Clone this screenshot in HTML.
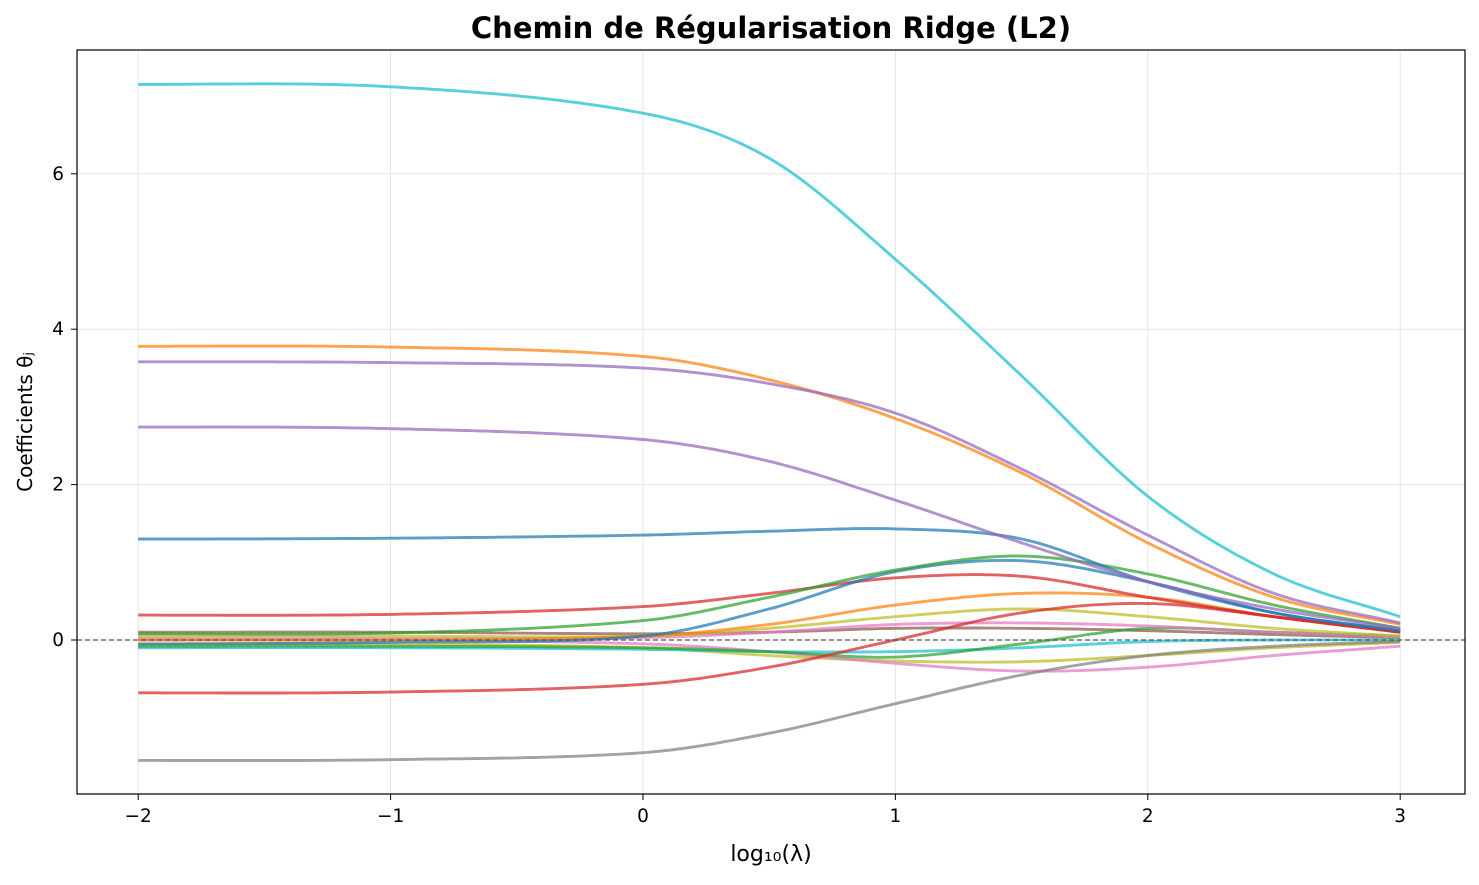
<!DOCTYPE html>
<html><head><meta charset="utf-8"><style>
body{margin:0;background:#fff;font-family:"Liberation Sans","DejaVu Sans",sans-serif}
</style></head><body>
<svg id="s" width="1479" height="880" xmlns="http://www.w3.org/2000/svg" font-family="DejaVu Sans, Liberation Sans, sans-serif">
<rect width="1479" height="880" fill="#fff"/>
<g id="grid" stroke="#e6e6e6" stroke-width="1"></g>
<g id="curves" fill="none" stroke-width="2.9" stroke-linejoin="round"></g>
<line x1="77" x2="1465" y1="640" y2="640" stroke="#555" stroke-width="1.3" stroke-dasharray="5,3"/>
<rect x="77" y="50" width="1388" height="744" fill="none" stroke="#000" stroke-width="1.2"/>
<g id="ticks" font-size="18.5" fill="#000"></g>
<text x="771" y="38" text-anchor="middle" font-size="29" font-weight="bold">Chemin de Régularisation Ridge (L2)</text>
<text x="771" y="861" text-anchor="middle" font-size="22">log₁₀(λ)</text>
<text transform="translate(32,422) rotate(-90)" text-anchor="middle" font-size="20">Coefficients θⱼ</text>
</svg>
<script>
const X=t=>643+(t)*252.4, Y=v=>640-v*77.7;
const ns="http://www.w3.org/2000/svg";
const g=document.getElementById('grid'),tk=document.getElementById('ticks');
function el(p,n,a){const e=document.createElementNS(ns,n);for(const k in a)e.setAttribute(k,a[k]);p.appendChild(e);return e;}
for(let t=-2;t<=3;t++){const x=X(t);el(g,'line',{x1:x,x2:x,y1:50,y2:794});el(tk,'line',{x1:x,x2:x,y1:794,y2:800,stroke:'#000'});
 const e=el(tk,'text',{x:x,y:822,'text-anchor':'middle'});e.textContent=t<0?'−'+(-t):t;}
for(let v=0;v<=6;v+=2){const y=Y(v);el(g,'line',{x1:77,x2:1465,y1:y,y2:y});el(tk,'line',{x1:71,x2:77,y1:y,y2:y,stroke:'#000'});
 const e=el(tk,'text',{x:64,y:y+6,'text-anchor':'end'});e.textContent=v;}
const C={b:'#1f77b4',o:'#ff7f0e',g:'#2ca02c',r:'#d62728',p:'#9467bd',br:'#8c564b',pk:'#e377c2',gr:'#7f7f7f',y:'#bcbd22',c:'#17becf'};
const D=[
['br',[0.1,0.1,0.08,0.1,0.15,0.15,0.12,0.07,0.03]],
['y',[-0.05,-0.05,-0.1,-0.2,-0.27,-0.28,-0.2,-0.1,-0.03]],
['pk',[0,0,-0.05,-0.15,-0.3,-0.4,-0.35,-0.2,-0.08]],
['c',[-0.1,-0.1,-0.12,-0.15,-0.15,-0.1,-0.02,0,0]],
['g',[-0.08,-0.08,-0.1,-0.15,-0.22,-0.05,0.15,0.1,0.05]],
['pk',[0.02,0.02,0.03,0.1,0.2,0.22,0.18,0.1,0.04]],
['y',[0.05,0.05,0.05,0.15,0.3,0.4,0.3,0.15,0.05]],
['o',[0,0,0.05,0.2,0.45,0.6,0.55,0.3,0.1]],
['gr',[-1.55,-1.54,-1.45,-1.2,-0.82,-0.45,-0.2,-0.08,-0.02]],
['r',[-0.68,-0.67,-0.57,-0.35,0,0.35,0.47,0.3,0.1]],
['r',[0.32,0.33,0.43,0.6,0.8,0.82,0.55,0.3,0.1]],
['b',[-0.05,-0.03,0.05,0.4,0.88,1.02,0.75,0.35,0.12]],
['g',[0.08,0.09,0.25,0.55,0.9,1.08,0.85,0.45,0.15]],
['b',[1.3,1.31,1.35,1.4,1.43,1.3,0.75,0.35,0.12]],
['p',[2.74,2.72,2.58,2.3,1.8,1.25,0.75,0.4,0.15]],
['o',[3.78,3.77,3.65,3.35,2.85,2.15,1.25,0.55,0.2]],
['p',[3.58,3.57,3.5,3.3,2.92,2.2,1.35,0.6,0.22]],
['c',[7.15,7.12,6.78,6.2,4.9,3.4,1.85,0.85,0.3]]];
const T=[-2,-1,0,0.5,1,1.5,2,2.5,3];
const cv=document.getElementById('curves');
D.forEach(([c,v])=>{const n=T.length,m=[];
 for(let i=0;i<n;i++){const a=Math.max(0,i-1),b=Math.min(n-1,i+1);m[i]=(v[b]-v[a])/(T[b]-T[a]);}
 m[0]=0;
 let pts=[];
 for(let i=0;i<n-1;i++){const h=T[i+1]-T[i];const steps=Math.round(h*40);
  for(let k=0;k<steps;k++){const s=k/steps,s2=s*s,s3=s2*s;
   const val=(2*s3-3*s2+1)*v[i]+(s3-2*s2+s)*h*m[i]+(-2*s3+3*s2)*v[i+1]+(s3-s2)*h*m[i+1];
   pts.push(X(T[i]+s*h).toFixed(1)+','+Y(val).toFixed(1));}}
 pts.push(X(3)+','+Y(v[n-1]));
 el(cv,'polyline',{points:pts.join(' '),stroke:C[c],'stroke-opacity':0.72});});
</script>
</body></html>
